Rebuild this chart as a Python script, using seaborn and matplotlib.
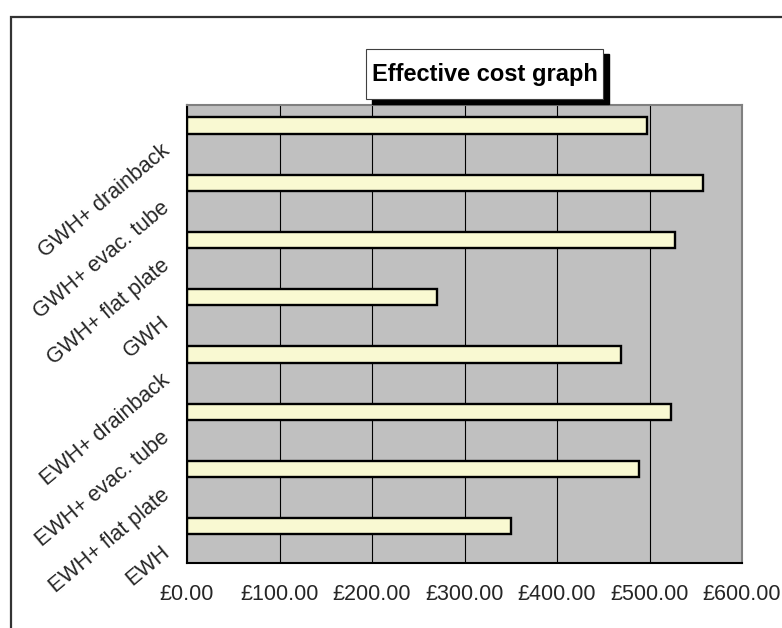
import matplotlib
matplotlib.use("Agg")
import matplotlib.pyplot as plt
import matplotlib.transforms as mtransforms
from matplotlib.patches import Rectangle
from matplotlib.lines import Line2D
import pandas as pd
import seaborn as sns

# Heating options (first entry sits at the bottom of the chart)
categories = ["EWH", "EWH+ flat plate", "EWH+ evac. tube", "EWH+ drainback",
              "GWH", "GWH+ flat plate", "GWH+ evac. tube", "GWH+ drainback"]
costs = [350, 489, 523, 469, 270, 528, 558, 497]
series_names = ["Effective cost", "(blank)"]
x_ticks = [0, 100, 200, 300, 400, 500, 600]
x_tick_labels = ["£0.00", "£100.00", "£200.00", "£300.00", "£400.00", "£500.00", "£600.00"]
title = "Effective cost graph"

sns.set_style("white")
plt.rcParams["font.family"] = ["Liberation Sans", "DejaVu Sans"]

W, H = 782, 628
fig = plt.figure(figsize=(W / 100, H / 100), dpi=100)
ax = fig.add_axes([187 / W, 1 - 563 / H, (742 - 187) / W, (563 - 105) / H])
ax.set_facecolor("#C0C0C0")

df = pd.DataFrame({"option": categories, "cost": costs, "series": series_names[0]})
order = categories[::-1]
sns.barplot(data=df, y="option", x="cost", hue="series", hue_order=series_names,
            order=order, orient="h", width=0.57, dodge=True,
            palette={series_names[0]: "#FFFFCC", series_names[1]: "#9999FF"},
            edgecolor="black", linewidth=1.7, errorbar=None, legend=False, ax=ax)

ax.set_xlim(0, 600)
ax.set_ylim(len(categories) - 0.5, -0.5)
ax.set_xlabel("")
ax.set_ylabel("")

# vertical gridlines
ax.set_xticks(x_ticks)
ax.set_xticklabels(x_tick_labels)
ax.xaxis.grid(True, color="black", linewidth=0.8)
ax.yaxis.grid(False)
ax.set_axisbelow(True)

# category boundaries carry the tick marks, centres carry the labels
n = len(categories)
ax.set_yticks([i - 0.5 for i in range(n + 1)])
ax.set_yticklabels([""] * (n + 1))
ax.set_yticks(list(range(n)), minor=True)
ax.set_yticklabels(order, minor=True, rotation=40, ha="right", va="center",
                   rotation_mode="anchor", fontsize=15.5)
ax.tick_params(axis="y", which="major", direction="out", length=5, width=1, color="black")
ax.tick_params(axis="y", which="minor", length=0, pad=0)
ax.tick_params(axis="x", direction="out", length=6, width=1, color="black",
               pad=9, labelsize=15.5)

shift = mtransforms.ScaledTranslation(-20 / 100, -15 / 100, fig.dpi_scale_trans)
for lab in ax.get_yticklabels(minor=True):
    lab.set_transform(lab.get_transform() + shift)

for side in ["left", "bottom"]:
    ax.spines[side].set_color("black")
    ax.spines[side].set_linewidth(1.5)
for side in ["top", "right"]:
    ax.spines[side].set_color("#808080")
    ax.spines[side].set_linewidth(1.5)

# outer chart border (left and top edges)
bx, by = 11 / W, 1 - 17 / H
fig.add_artist(Line2D([bx, bx, 1.01], [-0.01, by, by], transform=fig.transFigure,
                      color="#333333", linewidth=1.6, solid_joinstyle="miter"))

# title box with drop shadow
bx0, by0, bw, bh = 366, 49, 237, 50
fig.add_artist(Rectangle(((bx0 + 6) / W, 1 - (by0 + bh + 5) / H), bw / W, bh / H,
                         transform=fig.transFigure, facecolor="black", edgecolor="black"))
fig.add_artist(Rectangle((bx0 / W, 1 - (by0 + bh) / H), bw / W, bh / H,
                         transform=fig.transFigure, facecolor="white",
                         edgecolor="#404040", linewidth=0.8))
fig.text((bx0 + bw / 2) / W, 1 - (by0 + bh / 2) / H, title, ha="center", va="center",
         fontsize=17, fontweight="bold", color="black")

fig.savefig("out.png", dpi=100)
